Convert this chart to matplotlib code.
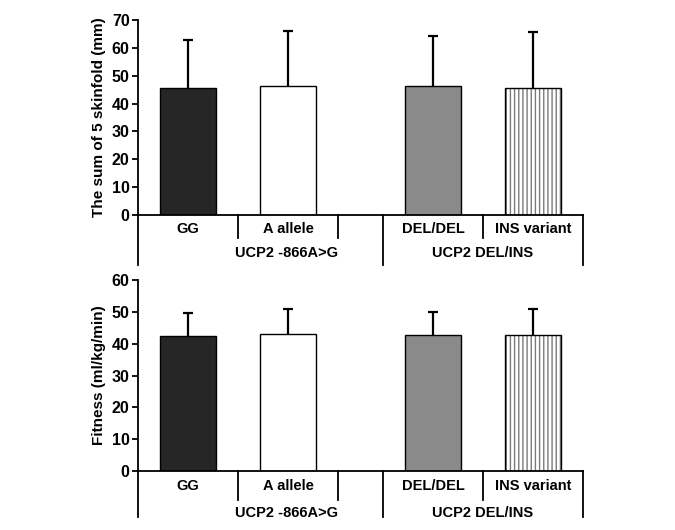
import matplotlib
matplotlib.use("Agg")
import matplotlib.pyplot as plt
from matplotlib.transforms import blended_transform_factory

plt.rcParams["font.family"] = ["Liberation Sans", "DejaVu Sans"]
plt.rcParams["font.weight"] = "bold"

# data
categories = ["GG", "A allele", "DEL/DEL", "INS variant"]
groups = ["UCP2 -866A>G", "UCP2 DEL/INS"]
skinfold_mean = [45.5, 46.2, 46.2, 45.7]
skinfold_upper = [62.8, 66.2, 64.3, 65.8]
fitness_mean = [42.4, 42.9, 42.7, 42.6]
fitness_upper = [49.6, 50.8, 49.8, 50.8]

# layout (category slots, group gap)
xpos = [0.5, 1.5, 2.95, 3.95]
short_seps = [1.0, 2.0, 3.45]
long_seps = [0.0, 2.45, 4.45]
group_x = [1.49, 3.45]
fills = ["#262626", "white", "#8a8a8a", "white"]


def draw_panel(ax, means, uppers, ylim, ylabel, short_y, long_y, cat_y, grp_y):
    for i, (x, m) in enumerate(zip(xpos, means)):
        if categories[i] == "INS variant":
            ax.bar(x, m, width=0.56, color="white", edgecolor="#7a7a7a",
                   hatch="||||", linewidth=0, zorder=2)
            ax.bar(x, m, width=0.56, color="none", edgecolor="black",
                   linewidth=1.0, zorder=3)
        else:
            ax.bar(x, m, width=0.56, color=fills[i], edgecolor="black",
                   linewidth=1.0, zorder=2)
    err = [u - m for u, m in zip(uppers, means)]
    eb = ax.errorbar(xpos, means, yerr=[[0] * len(err), err], fmt="none",
                     ecolor="black", elinewidth=1.6, capsize=3.5, capthick=1.6, zorder=4)
    # only the upper caps are shown
    eb[1][0].set_visible(False)

    ax.set_xlim(0, 4.45)
    ax.set_ylim(*ylim)
    ax.set_yticks(range(ylim[0], ylim[1] + 1, 10))
    ax.set_xticks([])
    ax.spines["top"].set_visible(False)
    ax.spines["right"].set_visible(False)
    ax.spines["left"].set_linewidth(1.3)
    ax.spines["bottom"].set_linewidth(1.3)
    ax.tick_params(axis="y", direction="out", length=4, width=1.3, labelsize=11.5, pad=2)
    ax.set_ylabel(ylabel, fontsize=11, fontweight="bold", labelpad=4)

    tr = blended_transform_factory(ax.transData, ax.transAxes)
    for x in short_seps:
        ax.plot([x, x], [0, short_y], color="black", lw=1.3, transform=tr, clip_on=False)
    for x in long_seps:
        ax.plot([x, x], [0, long_y], color="black", lw=1.3, transform=tr, clip_on=False)
    for x, c in zip(xpos, categories):
        ax.text(x, cat_y, c, transform=tr, ha="center", va="center",
                fontsize=10.5, fontweight="bold")
    for x, g in zip(group_x, groups):
        ax.text(x, grp_y, g, transform=tr, ha="center", va="center",
                fontsize=10.5, fontweight="bold")


fig = plt.figure(figsize=(6.75, 5.3), dpi=100)
ax1 = fig.add_axes([0.2044, 0.5943, 0.6593, 0.3679])
ax2 = fig.add_axes([0.2044, 0.1113, 0.6593, 0.3604])

draw_panel(ax1, skinfold_mean, skinfold_upper, (0, 70), "The sum of 5 skinfold (mm)",
           -0.118, -0.256, -0.072, -0.195)
draw_panel(ax2, fitness_mean, fitness_upper, (0, 60), "Fitness (ml/kg/min)",
           -0.152, -0.241, -0.079, -0.22)

fig.savefig("out.png", dpi=100)
plt.close(fig)
